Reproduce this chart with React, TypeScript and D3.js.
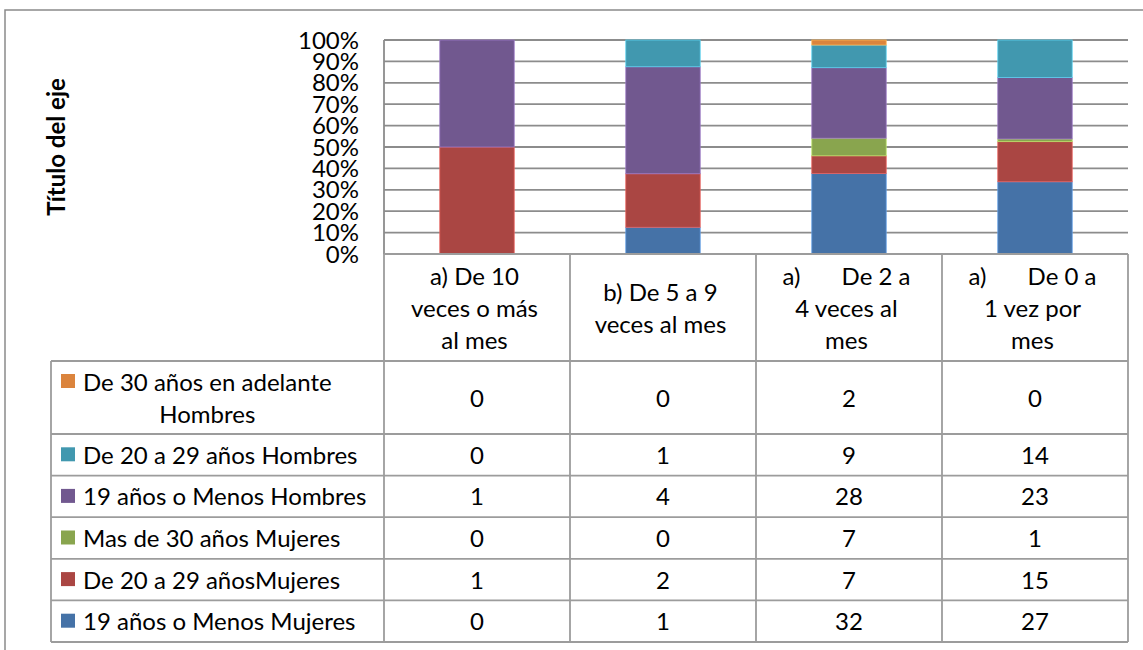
import React, { useEffect, useRef } from "react";
import * as d3 from "d3";

// ---- data ----
const categoryLines: string[][] = [
  ["a) De 10", "veces o más", "al mes"],
  ["b) De 5 a 9", "veces al mes"],
  ["a)\tDe 2 a", "4 veces al", "mes"],
  ["a)\tDe 0 a", "1 vez por", "mes"],
];
// series, bottom of the stack first
const seriesNames = [
  "19 años o Menos Mujeres",
  "De 20 a 29 añosMujeres",
  "Mas de 30 años Mujeres",
  "19 años o Menos Hombres",
  "De 20 a 29 años Hombres",
  "De 30 años en adelante\nHombres",
];
const seriesColors = ["#4572A7", "#AA4643", "#89A54E", "#71588F", "#4198AF", "#DB843D"];
const mujeres19 = [0, 1, 32, 27];
const mujeres20a29 = [1, 2, 7, 15];
const mujeresMas30 = [0, 0, 7, 1];
const hombres19 = [1, 4, 28, 23];
const hombres20a29 = [0, 1, 9, 14];
const hombres30 = [0, 0, 2, 0];
const seriesValues = [mujeres19, mujeres20a29, mujeresMas30, hombres19, hombres20a29, hombres30];
const yTicks = [0, 0.1, 0.2, 0.3, 0.4, 0.5, 0.6, 0.7, 0.8, 0.9, 1];
const axisTitle = "Título del eje";

const FONT = "Lato, 'Liberation Sans', sans-serif";
const FS = 24;

export default function App() {
  const ref = useRef<SVGSVGElement>(null);

  useEffect(() => {
    const svg = d3.select(ref.current!);
    svg.selectAll("*").remove();

    const W = 1143, H = 650;
    const plotL = 384, plotR = 1128, plotT = 40, plotB = 254;
    const tableL = 51;
    const headerB = 361;
    const rowBounds = [361, 434, 475.6, 517.2, 558.8, 600.4, 642];
    const gridColor = "#8c8c8c";
    const tableColor = "#9c9c9c";

    svg.append("rect").attr("width", W).attr("height", H).attr("fill", "#fff");
    // outer chart frame (extends past the picture)
    svg.append("rect").attr("x", 5).attr("y", 10).attr("width", 1200).attr("height", 700)
      .attr("fill", "none").attr("stroke", "#8a8a8a").attr("stroke-width", 1.5);

    const cats = categoryLines.map((_, i) => i);
    const x = d3.scaleBand<number>().domain(cats).range([plotL, plotR]).paddingInner(0.6).paddingOuter(0.3);
    const y = d3.scaleLinear().domain([0, 1]).range([plotB, plotT]);

    // gridlines
    svg.append("g").selectAll("line").data(yTicks).join("line")
      .attr("x1", plotL).attr("x2", plotR)
      .attr("y1", (d) => y(d)).attr("y2", (d) => y(d))
      .attr("stroke", gridColor).attr("stroke-width", 1.8);

    // stacked bars
    const keys = seriesNames.map((_, i) => String(i));
    const rows = cats.map((c) => {
      const o: any = { cat: c };
      seriesValues.forEach((vals, i) => (o[String(i)] = vals[c]));
      return o;
    });
    const stacked = d3.stack<any>().keys(keys).offset(d3.stackOffsetExpand)(rows);
    const gBars = svg.append("g");
    stacked.forEach((layer, si) => {
      gBars.selectAll(null).data(layer.filter((d) => d[1] - d[0] > 0)).join("rect")
        .attr("x", (d: any) => x(d.data.cat)!)
        .attr("width", x.bandwidth())
        .attr("y", (d: any) => y(d[1]))
        .attr("height", (d: any) => y(d[0]) - y(d[1]))
        .attr("fill", seriesColors[si])
        .attr("stroke", d3.color(seriesColors[si])!.brighter(0.9).formatHex())
        .attr("stroke-width", 0.8);
    });

    // value axis line
    svg.append("line").attr("x1", plotL).attr("x2", plotL).attr("y1", plotT).attr("y2", plotB)
      .attr("stroke", gridColor).attr("stroke-width", 1.8);

    // tick labels
    svg.append("g").selectAll("text").data(yTicks).join("text")
      .attr("x", 359).attr("y", (d) => y(d) + 8.5)
      .attr("text-anchor", "end")
      .attr("font-family", FONT).attr("font-size", FS).attr("fill", "#000")
      .text((d) => d3.format(".0%")(d));

    // axis title
    svg.append("text")
      .attr("transform", `translate(65,${(plotT + plotB) / 2}) rotate(-90)`)
      .attr("text-anchor", "middle")
      .attr("font-family", FONT).attr("font-size", FS).attr("font-weight", "bold").attr("fill", "#000")
      .text(axisTitle);

    // ---- data table ----
    const gT = svg.append("g").attr("stroke", tableColor).attr("stroke-width", 1.8);
    const colBounds = [plotL, ...cats.map((c) => x(c)! + x.bandwidth() / 2 + x.step() / 2)];
    colBounds.forEach((cx) => {
      gT.append("line").attr("x1", cx).attr("x2", cx).attr("y1", plotB).attr("y2", rowBounds[rowBounds.length - 1]);
    });
    gT.append("line").attr("x1", tableL).attr("x2", tableL).attr("y1", headerB).attr("y2", rowBounds[rowBounds.length - 1]);
    rowBounds.forEach((ry) => {
      gT.append("line").attr("x1", tableL).attr("x2", plotR).attr("y1", ry).attr("y2", ry);
    });
    gT.append("line").attr("x1", plotL).attr("x2", plotR).attr("y1", plotB).attr("y2", plotB);

    const lineH = 32;
    const txt = (sel: any) => sel.attr("font-family", FONT).attr("font-size", FS).attr("fill", "#000");

    // header cells
    const headerMid = (plotB + headerB) / 2;
    categoryLines.forEach((lines, c) => {
      const cx = x(c)! + x.bandwidth() / 2 - 2.5;
      lines.forEach((ln, li) => {
        const by = headerMid + (li - (lines.length - 1) / 2) * lineH + 9;
        if (ln.includes("\t")) {
          const [a, b] = ln.split("\t");
          txt(svg.append("text")).attr("x", cx - 64).attr("y", by).attr("text-anchor", "start").text(a);
          txt(svg.append("text")).attr("x", cx + 64).attr("y", by).attr("text-anchor", "end").text(b);
        } else {
          txt(svg.append("text")).attr("x", cx).attr("y", by).attr("text-anchor", "middle").text(ln);
        }
      });
    });

    // data rows: top row is last series
    const order = seriesNames.map((_, i) => seriesNames.length - 1 - i);
    order.forEach((si, ri) => {
      const top = rowBounds[ri], bot = rowBounds[ri + 1];
      const mid = (top + bot) / 2;
      const lines = seriesNames[si].split("\n");
      const firstBase = mid - ((lines.length - 1) / 2) * lineH + 9;
      svg.append("rect").attr("x", 61).attr("y", firstBase - 16.5).attr("width", 14).attr("height", 14)
        .attr("fill", seriesColors[si]);
      const t0 = txt(svg.append("text")).attr("x", 83).attr("y", firstBase).attr("text-anchor", "start").text(lines[0]);
      const w0 = (t0.node() as SVGTextElement).getComputedTextLength();
      lines.slice(1).forEach((ln, li) => {
        txt(svg.append("text")).attr("x", 83 + w0 / 2).attr("y", firstBase + (li + 1) * lineH)
          .attr("text-anchor", "middle").text(ln);
      });
      seriesValues[si].forEach((v, c) => {
        txt(svg.append("text")).attr("x", x(c)! + x.bandwidth() / 2).attr("y", mid + 9)
          .attr("text-anchor", "middle").text(String(v));
      });
    });
  }, []);

  return (
    <svg
      ref={ref}
      width={1143}
      height={650}
      style={{ position: "absolute", left: 0, top: 0, display: "block" }}
    />
  );
}
